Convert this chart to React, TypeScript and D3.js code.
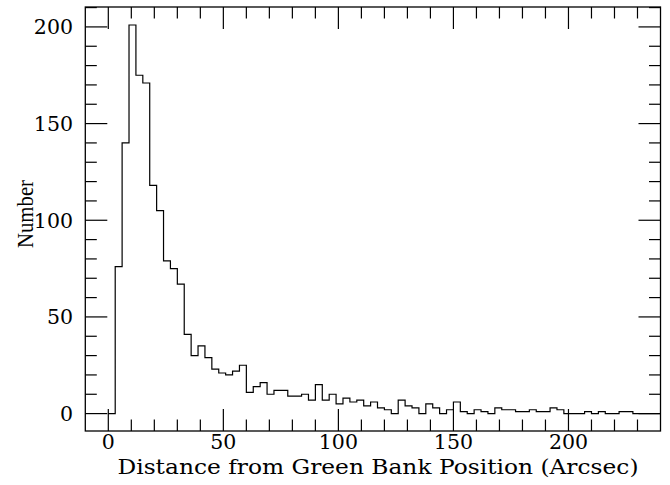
import React from "react";
import * as d3 from "d3";

const binWidth = 3;
const counts = [
  0, 76, 140, 201, 175, 171, 118, 105, 79, 75, 67, 41, 30, 35, 29, 23, 21, 20, 22, 25,
  11, 14, 16, 10, 12, 12, 9, 9, 10, 7, 15, 7, 10, 5, 8, 6, 7, 4, 6, 3,
  2, 0, 7, 4, 3, 0, 5, 3, 0, 2, 6, 1, 0, 2, 1, 0, 3, 2, 2, 1,
  1, 2, 1, 1, 3, 2, 0, 0, 0, 1, 0, 1, 0, 0, 1, 1, 0,
];
const xTickLabels = [0, 50, 100, 150, 200];
const yTickLabels = [0, 50, 100, 150, 200];
const xDomain = [-10, 240];
const yDomain = [-9, 210.3];

const W = 670;
const H = 485;
const L = 85.3, R = 660.5, T = 7, B = 431;

export default function App() {
  const x = d3.scaleLinear().domain(xDomain).range([L, R]);
  const y = d3.scaleLinear().domain(yDomain).range([B, T]);

  const pts: [number, number][] = counts.map((c, i) => [i * binWidth, c]);
  pts.push([xDomain[1], 0]);
  const line = d3
    .line<[number, number]>()
    .x((d) => x(d[0]))
    .y((d) => y(d[1]))
    .curve(d3.curveStepAfter);

  const xMinor = d3.range(-10, 241, 10);
  const yMinor = d3.range(0, 211, 10);
  const major = 22;
  const minor = 11.5;
  const font = "'DejaVu Serif', serif";

  return (
    <svg
      width={W}
      height={H}
      style={{ position: "absolute", left: 0, top: 0, background: "#fff" }}
    >
      <rect x={0} y={0} width={W} height={H} fill="#fff" />
      <path d={line(pts) || ""} fill="none" stroke="#000" strokeWidth={1.2} />
      <g stroke="#000" strokeWidth={1.2}>
        {xMinor.map((v) => {
          const len = v % 50 === 0 ? major : minor;
          const px = x(v);
          if (px < L + 0.5 || px > R - 0.5) return null;
          return (
            <g key={"x" + v}>
              <line x1={px} x2={px} y1={B} y2={B - len} />
              <line x1={px} x2={px} y1={T} y2={T + len} />
            </g>
          );
        })}
        {yMinor.map((v) => {
          const len = v % 50 === 0 ? major : minor;
          const py = y(v);
          if (py < T + 0.5 || py > B - 0.5) return null;
          return (
            <g key={"y" + v}>
              <line x1={L} x2={L + len} y1={py} y2={py} />
              <line x1={R} x2={R - len} y1={py} y2={py} />
            </g>
          );
        })}
      </g>
      <rect
        x={L}
        y={T}
        width={R - L}
        height={B - T}
        fill="none"
        stroke="#000"
        strokeWidth={1.3}
      />
      <g fontFamily={font} fontSize={20.5} fill="#000">
        {xTickLabels.map((v) => (
          <text key={"xl" + v} x={x(v)} y={449} textAnchor="middle">
            {v}
          </text>
        ))}
        {yTickLabels.map((v) => (
          <text key={"yl" + v} x={73} y={y(v) + 7.5} textAnchor="end">
            {v}
          </text>
        ))}
      </g>
      <text
        x={378}
        y={474}
        textAnchor="middle"
        fontFamily={font}
        fontSize={21}
        textLength={521}
        lengthAdjust="spacingAndGlyphs"
      >
        Distance from Green Bank Position (Arcsec)
      </text>
      <text
        transform={`translate(33,214) rotate(-90)`}
        textAnchor="middle"
        fontFamily="'Liberation Serif', serif"
        fontSize={22.5}
        textLength={68}
        lengthAdjust="spacingAndGlyphs"
      >
        Number
      </text>
    </svg>
  );
}
